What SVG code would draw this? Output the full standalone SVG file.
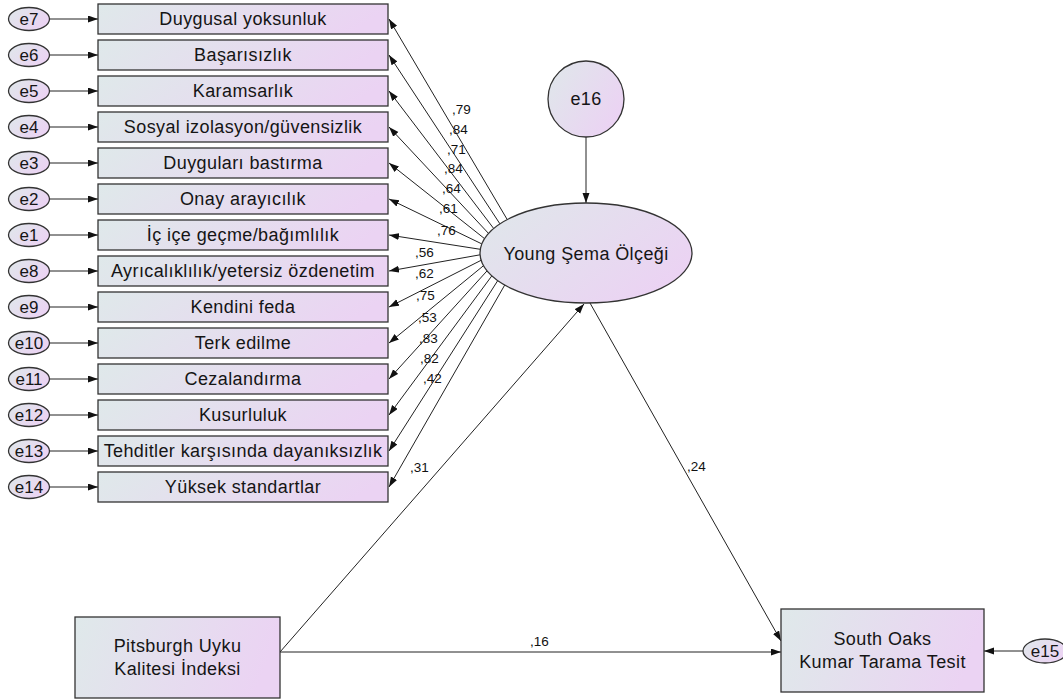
<svg xmlns="http://www.w3.org/2000/svg" width="1063" height="700" viewBox="0 0 1063 700">
<defs>
<linearGradient id="g" x1="0" y1="0" x2="1" y2="0.15">
<stop offset="0" stop-color="#dfe9ea"/>
<stop offset="1" stop-color="#ebd3f3"/>
</linearGradient>
<linearGradient id="g2" x1="0" y1="0" x2="1" y2="0.6">
<stop offset="0" stop-color="#dfe8ea"/>
<stop offset="1" stop-color="#ebd3f3"/>
</linearGradient>
<marker id="ah" markerUnits="userSpaceOnUse" markerWidth="11" markerHeight="8" refX="10" refY="3.5" orient="auto">
<path d="M0,0 L10,3.5 L0,7 z" fill="#111"/>
</marker>
<style>
.box{fill:url(#g);stroke:#333;stroke-width:1.3}
.el{fill:url(#g2);stroke:#333;stroke-width:1.3}
.t{font-family:"Liberation Sans",Arial,sans-serif;font-size:18px;letter-spacing:0.4px;fill:#151515;text-anchor:middle;dominant-baseline:central}
.te{font-family:"Liberation Sans",Arial,sans-serif;font-size:17px;fill:#151515;text-anchor:middle;dominant-baseline:central}
.c{stroke:#222;stroke-width:1;fill:none;marker-end:url(#ah)}
.l{font-family:"Liberation Sans",Arial,sans-serif;font-size:13.5px;fill:#111}
</style>
</defs>
<rect width="1063" height="700" fill="#fff"/>
<g id="connectors">
<line class="c" x1="49" y1="19" x2="98" y2="19"/>
<line class="c" x1="49" y1="55" x2="98" y2="55"/>
<line class="c" x1="49" y1="91" x2="98" y2="91"/>
<line class="c" x1="49" y1="127" x2="98" y2="127"/>
<line class="c" x1="49" y1="163" x2="98" y2="163"/>
<line class="c" x1="49" y1="199" x2="98" y2="199"/>
<line class="c" x1="49" y1="235" x2="98" y2="235"/>
<line class="c" x1="49" y1="271" x2="98" y2="271"/>
<line class="c" x1="49" y1="307" x2="98" y2="307"/>
<line class="c" x1="49" y1="343" x2="98" y2="343"/>
<line class="c" x1="49" y1="379" x2="98" y2="379"/>
<line class="c" x1="49" y1="415" x2="98" y2="415"/>
<line class="c" x1="49" y1="451" x2="98" y2="451"/>
<line class="c" x1="49" y1="487" x2="98" y2="487"/>
<line class="c" x1="507.2" y1="219.5" x2="389" y2="19"/>
<line class="c" x1="499.9" y1="223.8" x2="389" y2="55"/>
<line class="c" x1="493.7" y1="228.5" x2="389" y2="91"/>
<line class="c" x1="488.5" y1="233.4" x2="389" y2="127"/>
<line class="c" x1="484.5" y1="238.6" x2="389" y2="163"/>
<line class="c" x1="481.8" y1="243.9" x2="389" y2="199"/>
<line class="c" x1="480.3" y1="249.3" x2="389" y2="235"/>
<line class="c" x1="480.1" y1="254.8" x2="389" y2="271"/>
<line class="c" x1="481.1" y1="260.3" x2="389" y2="307"/>
<line class="c" x1="483.5" y1="265.7" x2="389" y2="343"/>
<line class="c" x1="487.0" y1="270.9" x2="389" y2="379"/>
<line class="c" x1="491.8" y1="275.9" x2="389" y2="415"/>
<line class="c" x1="497.7" y1="280.7" x2="389" y2="451"/>
<line class="c" x1="504.7" y1="285.1" x2="389" y2="487"/>
<line class="c" x1="586" y1="137" x2="586" y2="203"/>
<line class="c" x1="280" y1="652" x2="584" y2="304"/>
<line class="c" x1="590" y1="303" x2="781" y2="641"/>
<line class="c" x1="280" y1="652" x2="781" y2="652"/>
<line class="c" x1="1023" y1="651" x2="984" y2="651"/>
</g>
<g id="labels">
<text class="l" x="452" y="114">,79</text>
<text class="l" x="449" y="134">,84</text>
<text class="l" x="447" y="154">,71</text>
<text class="l" x="444" y="173">,84</text>
<text class="l" x="442" y="193">,64</text>
<text class="l" x="439" y="213">,61</text>
<text class="l" x="437" y="235">,76</text>
<text class="l" x="415" y="257">,56</text>
<text class="l" x="415" y="278">,62</text>
<text class="l" x="416" y="300">,75</text>
<text class="l" x="418" y="322">,53</text>
<text class="l" x="419" y="343">,83</text>
<text class="l" x="420" y="363">,82</text>
<text class="l" x="423" y="383">,42</text>
<text class="l" x="410" y="472">,31</text>
<text class="l" x="687" y="471">,24</text>
<text class="l" x="530" y="646">,16</text>
</g>
<g id="e7"><ellipse class="el" cx="29" cy="19" rx="20.5" ry="11.5"/><text class="te" x="29" y="19">e7</text></g>
<g id="e6"><ellipse class="el" cx="29" cy="55" rx="20.5" ry="11.5"/><text class="te" x="29" y="55">e6</text></g>
<g id="e5"><ellipse class="el" cx="29" cy="91" rx="20.5" ry="11.5"/><text class="te" x="29" y="91">e5</text></g>
<g id="e4"><ellipse class="el" cx="29" cy="127" rx="20.5" ry="11.5"/><text class="te" x="29" y="127">e4</text></g>
<g id="e3"><ellipse class="el" cx="29" cy="163" rx="20.5" ry="11.5"/><text class="te" x="29" y="163">e3</text></g>
<g id="e2"><ellipse class="el" cx="29" cy="199" rx="20.5" ry="11.5"/><text class="te" x="29" y="199">e2</text></g>
<g id="e1"><ellipse class="el" cx="29" cy="235" rx="20.5" ry="11.5"/><text class="te" x="29" y="235">e1</text></g>
<g id="e8"><ellipse class="el" cx="29" cy="271" rx="20.5" ry="11.5"/><text class="te" x="29" y="271">e8</text></g>
<g id="e9"><ellipse class="el" cx="29" cy="307" rx="20.5" ry="11.5"/><text class="te" x="29" y="307">e9</text></g>
<g id="e10"><ellipse class="el" cx="29" cy="343" rx="20.5" ry="11.5"/><text class="te" x="29" y="343">e10</text></g>
<g id="e11"><ellipse class="el" cx="29" cy="379" rx="20.5" ry="11.5"/><text class="te" x="29" y="379">e11</text></g>
<g id="e12"><ellipse class="el" cx="29" cy="415" rx="20.5" ry="11.5"/><text class="te" x="29" y="415">e12</text></g>
<g id="e13"><ellipse class="el" cx="29" cy="451" rx="20.5" ry="11.5"/><text class="te" x="29" y="451">e13</text></g>
<g id="e14"><ellipse class="el" cx="29" cy="487" rx="20.5" ry="11.5"/><text class="te" x="29" y="487">e14</text></g>
<g id="n1"><rect class="box" x="98" y="4" width="290" height="30"/><text class="t" x="243" y="19">Duygusal yoksunluk</text></g>
<g id="n2"><rect class="box" x="98" y="40" width="290" height="30"/><text class="t" x="243" y="55">Başarısızlık</text></g>
<g id="n3"><rect class="box" x="98" y="76" width="290" height="30"/><text class="t" x="243" y="91">Karamsarlık</text></g>
<g id="n4"><rect class="box" x="98" y="112" width="290" height="30"/><text class="t" x="243" y="127">Sosyal izolasyon/güvensizlik</text></g>
<g id="n5"><rect class="box" x="98" y="148" width="290" height="30"/><text class="t" x="243" y="163">Duyguları bastırma</text></g>
<g id="n6"><rect class="box" x="98" y="184" width="290" height="30"/><text class="t" x="243" y="199">Onay arayıcılık</text></g>
<g id="n7"><rect class="box" x="98" y="220" width="290" height="30"/><text class="t" x="243" y="235">İç içe geçme/bağımlılık</text></g>
<g id="n8"><rect class="box" x="98" y="256" width="290" height="30"/><text class="t" x="243" y="271">Ayrıcalıklılık/yetersiz özdenetim</text></g>
<g id="n9"><rect class="box" x="98" y="292" width="290" height="30"/><text class="t" x="243" y="307">Kendini feda</text></g>
<g id="n10"><rect class="box" x="98" y="328" width="290" height="30"/><text class="t" x="243" y="343">Terk edilme</text></g>
<g id="n11"><rect class="box" x="98" y="364" width="290" height="30"/><text class="t" x="243" y="379">Cezalandırma</text></g>
<g id="n12"><rect class="box" x="98" y="400" width="290" height="30"/><text class="t" x="243" y="415">Kusurluluk</text></g>
<g id="n13"><rect class="box" x="98" y="436" width="290" height="30"/><text class="t" x="243" y="451">Tehditler karşısında dayanıksızlık</text></g>
<g id="n14"><rect class="box" x="98" y="472" width="290" height="30"/><text class="t" x="243" y="487">Yüksek standartlar</text></g>
<g id="e16"><circle class="el" cx="586" cy="99" r="38"/><text class="t" x="586" y="99">e16</text></g>
<g id="young"><ellipse class="el" cx="586" cy="253" rx="106" ry="50"/><text class="t" x="586" y="254">Young Şema Ölçeği</text></g>
<g id="pitsburgh"><rect class="box" x="75" y="617" width="205" height="81"/><text class="t" x="177.5" y="646">Pitsburgh Uyku</text><text class="t" x="177.5" y="669">Kalitesi İndeksi</text></g>
<g id="southoaks"><rect class="box" x="781" y="609" width="203" height="83"/><text class="t" x="882.5" y="639">South Oaks</text><text class="t" x="882.5" y="662">Kumar Tarama Tesit</text></g>
<g id="e15"><ellipse class="el" cx="1045" cy="651" rx="22" ry="12"/><text class="te" x="1045" y="651">e15</text></g>
</svg>
